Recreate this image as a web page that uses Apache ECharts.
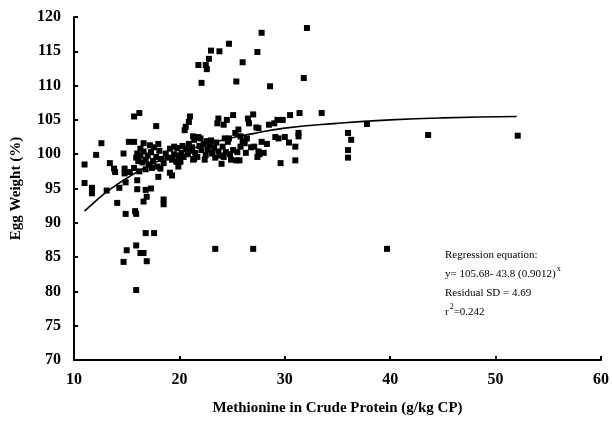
<!DOCTYPE html>
<html>
<head>
<meta charset="utf-8">
<script src="https://cdn.jsdelivr.net/npm/echarts@6/dist/echarts.min.js"></script>
<style>html,body{margin:0;padding:0;background:#fff}#c{width:612px;height:424px}</style>
</head>
<body>
<div id="c"></div>
<script>
// Observed points: [methionine g/kg CP, egg weight %]
const pointsLow = [
  [11.0,98.5],[11.0,95.8],[11.7,95.1],[11.7,94.3],[12.1,99.9],[12.6,101.6],[13.1,94.7],[13.4,98.7],
  [13.8,97.9],[13.9,97.4],[14.1,92.9],[14.3,95.1],[14.7,100.1],[14.8,97.9],[14.8,97.2],[14.9,95.9],
  [14.9,91.3],[15.0,86.0],[14.7,84.3],[15.2,101.8],[15.3,97.4],[15.7,105.5],[15.8,91.7],[15.7,101.8],
  [15.9,91.3],[15.9,86.7],[15.9,80.2],[16.0,94.9],[16.0,96.2],[16.2,106.0],[16.3,85.6],[16.6,85.6],
  [16.3,100.8],[16.6,101.6],[16.6,93.1],[16.8,88.5],[16.9,84.4],[16.8,94.8],[16.9,93.8],[17.3,95.0],
  [17.6,88.5],[17.8,104.1],[18.0,101.5],[18.0,96.7],[18.5,93.4],[18.5,92.7],[19.1,97.3],[19.3,96.9],
  [19.9,98.2],[19.5,101.1]
];
const pointsCluster = [
  [15.7,98.0],[15.9,99.5],[16.0,100.1],[16.1,99.0],[16.3,99.8],[16.5,98.8],[16.6,100.4],[16.8,99.2],
  [17.0,99.8],[17.1,98.5],[17.3,100.3],[17.5,99.0],[17.6,101.0],[17.8,99.6],[17.9,98.2],[18.1,100.5],
  [18.3,99.3],[18.5,98.7],[18.7,100.1],[18.9,99.5],[19.1,100.8],[19.3,99.2],[19.5,100.0],[19.7,98.9],
  [19.9,99.7],[17.2,101.3],[16.2,97.5],[16.8,97.8],[17.4,98.0],[18.2,97.9],
  [20.2,100.2],[20.4,99.6],[20.6,100.8],[20.8,100.0],[21.0,100.5],[21.2,101.0],[21.5,100.2],[21.7,99.6],
  [21.9,101.2],[22.1,100.6],[22.3,101.5],[22.5,99.9],[22.7,100.7],[22.9,101.3],[23.1,100.1],[23.3,100.9],
  [23.5,101.7],[23.7,100.4],[23.9,99.8],[24.1,101.1],[24.4,100.3],[24.6,101.8],[24.8,100.0],[25.1,100.6],
  [22.0,102.3],[22.4,99.2],[23.0,102.0],[23.4,99.5],[21.4,99.3],[20.9,101.5],[20.3,101.2],[24.2,99.6],
  [25.5,100.3],[26.0,101.9],[26.3,100.2],[26.8,101.0],[28.0,100.2],[28.3,101.5],[20.1,98.9],[19.8,100.9],
  [21.8,102.5],[22.6,101.9]
];
const pointsHigh = [
  [20.5,103.5],[20.6,104.0],[21.0,105.5],[20.9,104.7],[21.3,102.6],[21.4,102.1],[21.3,99.2],
  [21.8,113.0],[22.1,110.4],[22.5,113.0],[22.6,112.4],[22.8,113.9],[23.0,115.1],[23.8,115.0],[24.7,116.1],
  [25.4,110.6],[26.0,113.4],[27.4,114.9],[27.8,117.7],[28.6,109.9],[31.8,111.1],[32.1,118.4],
  [23.4,86.2],[27.0,86.2],[39.7,86.2],
  [23.6,104.5],[23.7,105.2],[24.2,104.3],[24.5,105.0],[25.1,105.7],[24.0,98.6],[24.3,102.3],[24.7,102.3],
  [25.3,103.1],[25.6,103.6],[25.8,102.6],[26.5,105.2],[26.6,104.5],[27.0,105.8],[27.3,103.9],[27.5,103.8],
  [27.8,101.8],[27.1,101.1],[27.4,99.6],[27.5,100.4],[24.9,99.2],[25.7,99.1],[25.8,101.1],[26.2,101.6],
  [26.4,102.3],[25.4,99.1],
  [29.0,104.5],[29.3,105.0],[29.8,105.0],[30.5,105.7],[31.4,106.0],[33.5,106.0],[29.6,98.7],[29.1,102.5],
  [29.4,102.3],[30.0,102.5],[30.4,101.7],[31.0,101.1],[31.3,103.1],[31.3,102.6],[31.0,99.1],[37.8,104.4],
  [36.0,103.1],[36.3,102.1],[36.0,100.6],[36.0,99.5],[43.6,102.8],[52.1,102.7],[28.5,104.3],[27.6,100.0]
];
// Fitted curve
const curveX = [11,12,13,14,15,16,17,18,20,22,25,27,30,35,40,45,52];
const curveY = [91.7,93.1,94.4,95.5,96.5,97.4,98.2,99.0,100.2,101.2,102.4,103.0,103.8,104.5,105.0,105.3,105.5];
const xTicks = [10,20,30,40,50,60];
const yTicks = [70,75,80,85,90,95,100,105,110,115,120];

const allPoints = pointsLow.concat(pointsCluster, pointsHigh);
const curve = curveX.map((x,i)=>[x,curveY[i]]);
const font = '"Liberation Serif","Times New Roman",serif';

const chart = echarts.init(document.getElementById('c'), null, {renderer:'canvas'});
chart.setOption({
  animation:false,
  backgroundColor:'#fff',
  grid:{left:74,right:9,top:17,bottom:64},
  xAxis:{
    type:'value', min:xTicks[0], max:xTicks[xTicks.length-1], interval:10,
    name:'Methionine in Crude Protein (g/kg CP)', nameLocation:'middle', nameGap:41,
    nameTextStyle:{fontFamily:font,fontWeight:'bold',fontSize:15,color:'#000'},
    axisLine:{lineStyle:{color:'#000',width:2}},
    axisTick:{inside:true,length:4,lineStyle:{color:'#000',width:2}},
    axisLabel:{fontFamily:font,fontWeight:'bold',fontSize:16,color:'#000',margin:12},
    splitLine:{show:false}
  },
  yAxis:{
    type:'value', min:yTicks[0], max:yTicks[yTicks.length-1], interval:5,
    name:'Egg Weight (%)', nameLocation:'middle', nameGap:50, nameRotate:90,
    nameTextStyle:{fontFamily:font,fontWeight:'bold',fontSize:15,color:'#000'},
    axisLine:{show:true,lineStyle:{color:'#000',width:2}},
    axisTick:{show:true,inside:true,length:4,lineStyle:{color:'#000',width:2}},
    axisLabel:{fontFamily:font,fontWeight:'bold',fontSize:16,color:'#000',margin:13},
    splitLine:{show:false}
  },
  series:[
    {type:'scatter',data:allPoints,symbol:'rect',symbolSize:6,itemStyle:{color:'#000',opacity:1},z:3},
    {type:'line',data:curve,smooth:true,showSymbol:false,symbol:'none',lineStyle:{color:'#000',width:1.6},z:4}
  ],
  graphic:[{
    type:'text', left:445, top:246,
    style:{
      text:'Regression equation:\n{n|y= 105.68- 43.8 (0.9012)}{s|x}\nResidual SD = 4.69\n{n|r}{s|2}{n|=0.242}',
      fontFamily:font, fontSize:11, fill:'#000', lineHeight:19,
      rich:{
        n:{fontFamily:font,fontSize:11,fill:'#000',lineHeight:19},
        s:{fontFamily:font,fontSize:8,fill:'#000',verticalAlign:'top',lineHeight:19,padding:[0,0,8,1]}
      }
    }
  }]
});
</script>
</body>
</html>
